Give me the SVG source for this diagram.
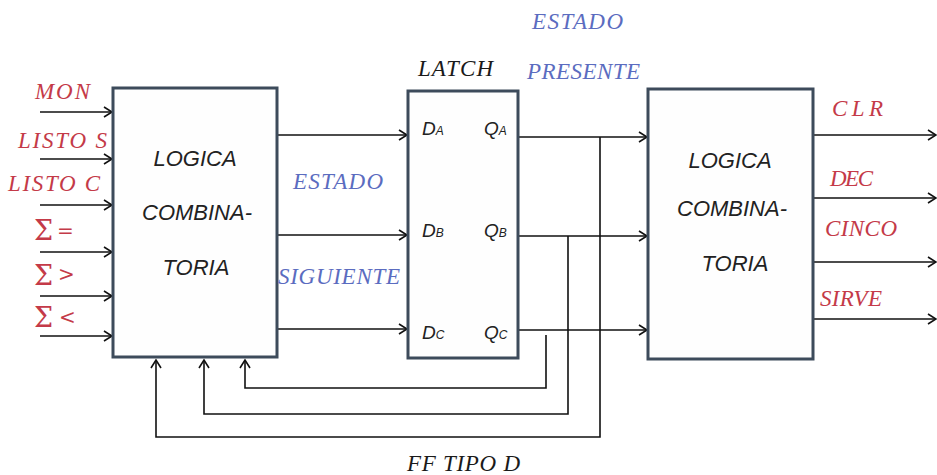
<svg xmlns="http://www.w3.org/2000/svg" width="937" height="475" viewBox="0 0 937 475">
<style>
.box{fill:#fefefe;stroke:#3d4b5b;stroke-width:3}
.ln{fill:none;stroke:#111;stroke-width:1.6}
.red{font-family:"Liberation Serif",serif;font-style:italic;font-size:23px;fill:#c43a48}
.blue{font-family:"Liberation Serif",serif;font-style:italic;font-size:23px;fill:#5b6cc0}
.blk{font-family:"Liberation Serif",serif;font-style:italic;font-size:23px;fill:#1a1a1a}
.sig{font-family:"DejaVu Serif",serif;font-size:27px;fill:#c43a48}
.op{font-size:20px}
.in{font-family:"Liberation Sans",sans-serif;font-style:italic;font-size:22px;fill:#222;text-anchor:middle}
.pin{font-family:"Liberation Sans",sans-serif;font-style:italic;font-size:19px;fill:#222}
.sub{font-size:12px}
</style>
<defs>
<marker id="ah" viewBox="-10 -6 12 12" refX="0" refY="0" markerWidth="12" markerHeight="12" markerUnits="userSpaceOnUse" orient="auto">
<path d="M-8,-5 L0,0 L-8,5" fill="none" stroke="#111" stroke-width="1.6"/>
</marker>
</defs>
<g id="connectors">
<line class="ln" x1="40" y1="112" x2="112" y2="112" marker-end="url(#ah)"/>
<line class="ln" x1="40" y1="159" x2="112" y2="159" marker-end="url(#ah)"/>
<line class="ln" x1="40" y1="205" x2="112" y2="205" marker-end="url(#ah)"/>
<line class="ln" x1="40" y1="252" x2="112" y2="252" marker-end="url(#ah)"/>
<line class="ln" x1="40" y1="296" x2="112" y2="296" marker-end="url(#ah)"/>
<line class="ln" x1="40" y1="336" x2="112" y2="336" marker-end="url(#ah)"/>
<line class="ln" x1="278" y1="135" x2="407" y2="135" marker-end="url(#ah)"/>
<line class="ln" x1="278" y1="235" x2="407" y2="235" marker-end="url(#ah)"/>
<line class="ln" x1="278" y1="329" x2="407" y2="329" marker-end="url(#ah)"/>
<line class="ln" x1="519" y1="137" x2="647" y2="137" marker-end="url(#ah)"/>
<line class="ln" x1="519" y1="236" x2="647" y2="236" marker-end="url(#ah)"/>
<line class="ln" x1="519" y1="330" x2="647" y2="330" marker-end="url(#ah)"/>
<line class="ln" x1="814" y1="135" x2="936" y2="135" marker-end="url(#ah)"/>
<line class="ln" x1="814" y1="198" x2="936" y2="198" marker-end="url(#ah)"/>
<line class="ln" x1="814" y1="262" x2="936" y2="262" marker-end="url(#ah)"/>
<line class="ln" x1="814" y1="319" x2="936" y2="319" marker-end="url(#ah)"/>
<polyline class="ln" points="546,335 546,388 245,388 245,360" marker-end="url(#ah)"/>
<polyline class="ln" points="568,236 568,414 204,414 204,360" marker-end="url(#ah)"/>
<polyline class="ln" points="600,137 600,437 156,437 156,360" marker-end="url(#ah)"/>
</g>
<g id="logic1">
<rect class="box" x="113" y="88" width="164" height="269"/>
<text class="in" x="195" y="166">LOGICA</text>
<text class="in" x="197" y="220">COMBINA-</text>
<text class="in" x="196" y="275">TORIA</text>
</g>
<g id="latch">
<rect class="box" x="408" y="91" width="110" height="267"/>
<text class="pin" x="422" y="135">D<tspan class="sub">A</tspan></text>
<text class="pin" x="484" y="135">Q<tspan class="sub">A</tspan></text>
<text class="pin" x="422" y="237">D<tspan class="sub">B</tspan></text>
<text class="pin" x="484" y="237">Q<tspan class="sub">B</tspan></text>
<text class="pin" x="422" y="339">D<tspan class="sub">C</tspan></text>
<text class="pin" x="484" y="339">Q<tspan class="sub">C</tspan></text>
</g>
<g id="logic2">
<rect class="box" x="648" y="89" width="165" height="270"/>
<text class="in" x="730" y="168">LOGICA</text>
<text class="in" x="732" y="216">COMBINA-</text>
<text class="in" x="735" y="271">TORIA</text>
</g>
<g id="labels">
<text class="red" x="35" y="99" textLength="55">MON</text>
<text class="red" x="18" y="148" textLength="89">LISTO S</text>
<text class="red" x="8" y="191" textLength="92">LISTO C</text>
<text class="sig" x="34" y="240">Σ<tspan class="op" x="57" y="238">=</tspan></text>
<text class="sig" x="34" y="285">Σ<tspan class="op" x="58" y="281">&gt;</tspan></text>
<text class="sig" x="34" y="327">Σ<tspan class="op" x="59" y="324">&lt;</tspan></text>
<text class="blue" x="293" y="189" textLength="90">ESTADO</text>
<text class="blue" x="278" y="284" textLength="122">SIGUIENTE</text>
<text class="blue" x="532" y="29" textLength="91">ESTADO</text>
<text class="blue" x="527" y="79" textLength="113">PRESENTE</text>
<text class="blk" x="418" y="76" textLength="75">LATCH</text>
<text class="blk" x="407" y="471" textLength="113">FF TIPO D</text>
<text class="red" x="832" y="116" textLength="51">CLR</text>
<text class="red" x="830" y="186" textLength="43">DEC</text>
<text class="red" x="825" y="236" textLength="72">CINCO</text>
<text class="red" x="820" y="306" textLength="62">SIRVE</text>
</g>
</svg>
